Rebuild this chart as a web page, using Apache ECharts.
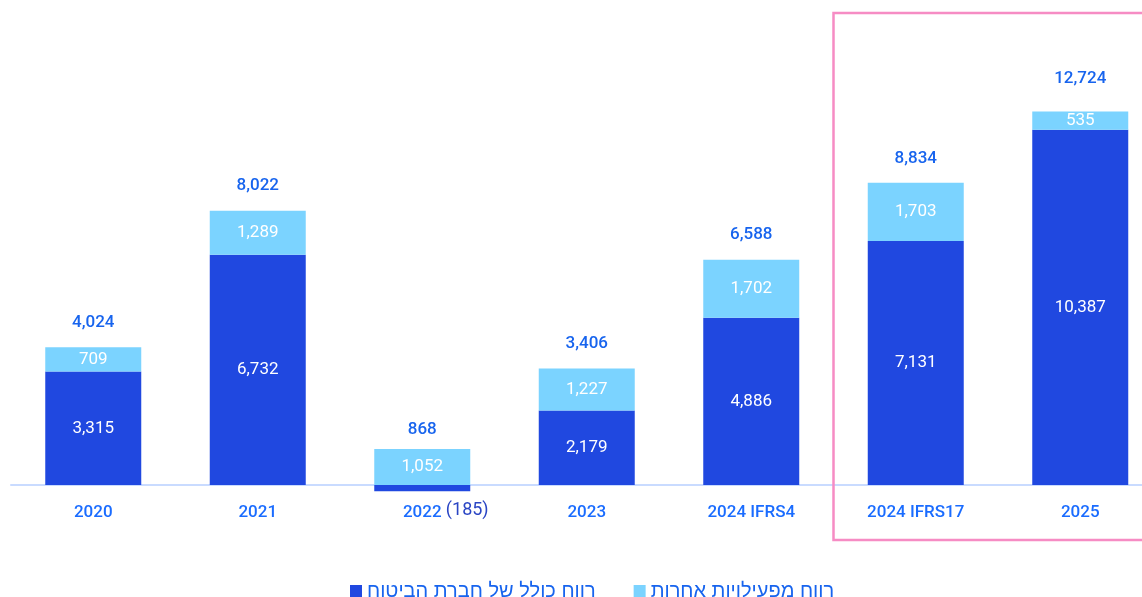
<!DOCTYPE html>
<html>
<head>
<meta charset="utf-8">
<style>
  html, body { margin: 0; padding: 0; background: #ffffff; }
  #chart { width: 1142px; height: 597px; }
</style>
<script src="https://cdn.jsdelivr.net/npm/echarts@6/dist/echarts.min.js"></script>
</head>
<body>
<div id="chart"></div>
<script>
// Profit breakdown by year (NIS millions)
const categories = ['2020', '2021', '2022', '2023', '2024 IFRS4', '2024 IFRS17', '2025'];
const insuranceProfit = [3315, 6732, -185, 2179, 4886, 7131, 10387];
const otherProfit = [709, 1289, 1052, 1227, 1702, 1703, 535];
const totals = [4024, 8022, 868, 3406, 6588, 8834, 12724];
const seriesNames = ['רווח כולל של חברת הביטוח', 'רווח מפעילויות אחרות'];

const DARK = '#2048e0';
const LIGHT = '#7bd3ff';
const TEXT_BLUE = '#1764ee';
const FONT = 'Roboto, "DejaVu Sans", sans-serif';

// height of the positive part of each stack, used to place the total labels
const stackTop = insuranceProfit.map((v, i) => Math.max(v, 0) + Math.max(otherProfit[i], 0));

// gap between the stack top and its total label
const totalLabelGap = [16, 16, 11, 16, 16, 16, 24];

const fmt = v => {
  const s = Math.abs(v).toLocaleString('en-US');
  return v < 0 ? '(' + s + ')' : s;
};

const chart = echarts.init(document.getElementById('chart'), null, { renderer: 'canvas' });

const option = {
  animation: false,
  backgroundColor: '#ffffff',
  grid: {
    left: 11, width: 1151.5, top: 6.2, bottom: 105.2,
    containLabel: false,
    outerBoundsMode: 'none'
  },
  legend: {
    top: 576,
    left: 345,
    itemWidth: 12,
    itemHeight: 12,
    itemGap: 38,
    icon: 'rect',
    textStyle: { color: TEXT_BLUE, fontSize: 20, fontFamily: '"Liberation Sans", "DejaVu Sans", sans-serif' },
    data: seriesNames
  },
  xAxis: {
    type: 'category',
    data: categories,
    axisLine: { onZero: true, lineStyle: { color: '#c9dbff', width: 2 } },
    axisTick: { show: false },
    axisLabel: {
      color: '#1a6cff',
      fontSize: 17,
      fontWeight: 500,
      fontFamily: FONT,
      margin: 12
    }
  },
  yAxis: {
    type: 'value',
    min: -200,
    max: 14000,
    show: false,
    splitLine: { show: false }
  },
  series: [
    {
      name: seriesNames[0],
      type: 'bar',
      stack: 'profit',
      barWidth: 96,
      itemStyle: { color: DARK },
      label: {
        show: true,
        position: 'inside',
        color: '#ffffff',
        fontSize: 17,
        fontFamily: FONT,
        formatter: p => fmt(p.value)
      },
      data: insuranceProfit.map(v => v < 0
        ? { value: v, label: { position: 'bottom', offset: [45, 5], color: '#2a45c4', fontSize: 18 } }
        : v)
    },
    {
      name: seriesNames[1],
      type: 'bar',
      stack: 'profit',
      barWidth: 96,
      itemStyle: { color: LIGHT },
      label: {
        show: true,
        position: 'inside',
        color: '#ffffff',
        fontSize: 17,
        fontFamily: FONT,
        formatter: p => fmt(p.value)
      },
      data: otherProfit
    },
    {
      name: 'total',
      type: 'bar',
      barWidth: 96,
      barGap: '-100%',
      silent: true,
      z: 1,
      itemStyle: { color: 'rgba(0,0,0,0)' },
      label: {
        show: true,
        position: 'top',
        distance: 16,
        color: TEXT_BLUE,
        fontSize: 17,
        fontWeight: 500,
        fontFamily: FONT,
        formatter: p => fmt(totals[p.dataIndex])
      },
      data: stackTop.map((v, i) => ({ value: v, label: { distance: totalLabelGap[i] } }))
    }
  ]
};

chart.setOption(option);

// Frame around the IFRS17-based periods, aligned to the category band edges
const c1 = chart.convertToPixel({ xAxisIndex: 0 }, categories[4]);
const c2 = chart.convertToPixel({ xAxisIndex: 0 }, categories[5]);
const bandLeft = (c1 + c2) / 2;
chart.setOption({
  graphic: [{
    type: 'rect',
    shape: { x: bandLeft, y: 13, width: 1142 - bandLeft + 10, height: 527 },
    style: { fill: 'none', stroke: '#f68cc4', lineWidth: 2.5 },
    silent: true,
    z: 10
  }]
});
</script>
</body>
</html>
